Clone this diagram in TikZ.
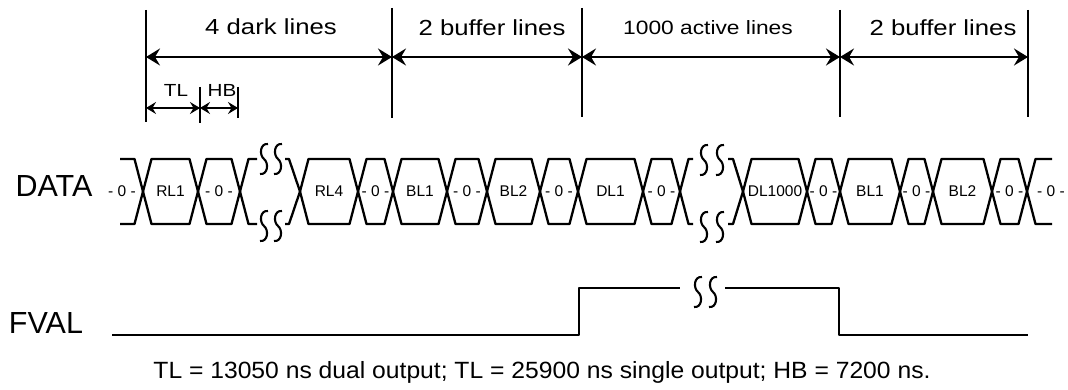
\documentclass[tikz,border=0pt]{standalone}
\usepackage{fontspec}
\setmainfont{Liberation Sans}
\newfontfamily\hdfont[FakeStretch=1.18]{Liberation Sans}
\newfontfamily\capfont[FakeStretch=1.05]{Liberation Sans}
\usetikzlibrary{arrows.meta}
\begin{document}
\begin{tikzpicture}[x=1pt,y=-1pt,
  sig/.style={line width=2.3pt,line join=round},
  tickline/.style={line width=1.9pt},
  dimarr/.style={line width=2.2pt,{Stealth[length=14pt,width=17pt,inset=5pt]}-{Stealth[length=14pt,width=17pt,inset=5pt]}},
  sdimarr/.style={line width=1.9pt,{Stealth[length=10pt,width=12pt,inset=3.5pt]}-{Stealth[length=10pt,width=12pt,inset=3.5pt]}},
  squig/.style={line width=2.1pt},
  brk/.pic={\draw[squig] (4,-15) .. controls (-4,-16) and (-5,-4) .. (0,0) .. controls (5,4) and (4,16) .. (-4,15);},
  celltxt/.style={font=\fontsize{15.5}{16}\selectfont,inner sep=0pt},
  hd/.style={font=\hdfont\fontsize{21.8}{22}\selectfont,inner sep=0pt,anchor=base},
  hdsmall/.style={font=\hdfont\fontsize{19.3}{20}\selectfont,inner sep=0pt,anchor=base},
  tlhb/.style={font=\hdfont\fontsize{17.5}{18}\selectfont,inner sep=0pt,anchor=base},
  signame/.style={font=\fontsize{30.5}{31}\selectfont,inner sep=0pt,anchor=base},
]
\useasboundingbox (0,0) rectangle (1068,390);

% ---------- dimension ticks ----------
\coordinate (k0t) at (146,10);   \coordinate (k0b) at (146,122);
\coordinate (k1t) at (392,8);    \coordinate (k1b) at (392,118);
\coordinate (k2t) at (582,8);    \coordinate (k2b) at (582,117);
\coordinate (k3t) at (840,10);   \coordinate (k3b) at (840,117);
\coordinate (k4t) at (1028,10);  \coordinate (k4b) at (1028,117);
\coordinate (tlt) at (200,87);   \coordinate (tlb) at (200,123);
\coordinate (hbt) at (238,87);   \coordinate (hbb) at (238,118);
\foreach \k in {k0,k1,k2,k3,k4,tl,hb} \draw[tickline] (\k t) -- (\k b);

\coordinate (a0) at (146,57); \coordinate (a1) at (392,57);
\coordinate (a2) at (582,57); \coordinate (a3) at (840,57);
\coordinate (a4) at (1028,57);
\draw[dimarr] (a0) -- (a1);
\draw[dimarr] (a1) -- (a2);
\draw[dimarr] (a2) -- (a3);
\draw[dimarr] (a3) -- (a4);

\coordinate (s0) at (146,108); \coordinate (s1) at (200,108); \coordinate (s2) at (238,108);
\draw[sdimarr] (s0) -- (s1);
\draw[sdimarr] (s1) -- (s2);

\node[hd] (ldark) at (271,35) {4 dark lines};
\node[hd] (lbuf1) at (492,36) {2 buffer lines};
\node[hdsmall] (lact) at (708,35) {1000 active lines};
\node[hd] (lbuf2) at (943,36) {2 buffer lines};
\node[tlhb] (ltl) at (176,97) {TL};
\node[tlhb] (lhb) at (222,97) {HB};

% ---------- DATA ----------
\node[signame] (ndata) at (54,197) {DATA};
% open left end
\draw[sig] (120,159) -- (134.5,159) -- (143,191.5) -- (134.5,224) -- (120,224);
\node[celltxt] (cell0) at (122,191.5) {- 0 -};
\foreach \a/\b/\t [count=\i] in {143/198/RL1, 198/240/{- 0 -}, 300/358/RL4, 358/393/{- 0 -},
  393/447/BL1, 447/487/{- 0 -}, 487/540/BL2, 540/578/{- 0 -}, 578/643/DL1, 643/680/{- 0 -},
  743/807/DL1000, 807/840/{- 0 -}, 840/900/BL1, 900/933/{- 0 -}, 933/992/BL2, 992/1027/{- 0 -}} {
  \draw[sig] (\a,191.5) -- (\a+8.5,159) -- (\b-8.5,159) -- (\b,191.5) -- (\b-8.5,224) -- (\a+8.5,224) -- cycle;
  \node[celltxt] (cell\i) at ({(\a+\b)/2},191.5) {\t};
}
% open right end
\draw[sig] (1052,159) -- (1035.5,159) -- (1027,191.5) -- (1035.5,224) -- (1052,224);
\node[celltxt] (cell17) at (1051,191.5) {- 0 -};

% break 1
\draw[sig] (257,159) -- (248.5,159) -- (240,191.5) -- (248.5,224) -- (257,224);
\draw[sig] (285,159) -- (289,159) -- (300,191.5) -- (289,224) -- (285,224);
\pic at (264,159) {brk}; \pic at (278,159) {brk};
\pic at (264,226) {brk}; \pic at (278,226) {brk};
% break 2
\draw[sig] (693,159) -- (688.5,159) -- (680,191.5) -- (688.5,224) -- (693,224);
\draw[sig] (728,159) -- (733,159) -- (743,191.5) -- (733,224) -- (728,224);
\pic at (704,160) {brk}; \pic at (720,160) {brk};
\pic at (704,227) {brk}; \pic at (720,227) {brk};

% ---------- FVAL ----------
\node[signame] (nfval) at (46,333) {FVAL};
\draw[sig] (112,335) -- (579,335) -- (579,288) -- (680,288);
\draw[sig] (725,288) -- (839,288) -- (839,335) -- (1028,335);
\pic at (698,292) {brk}; \pic at (713,292) {brk};

% ---------- caption ----------
\node[font=\capfont\fontsize{23.5}{24}\selectfont,inner sep=0pt,anchor=base] (cap) at (542,378)
  {TL = 13050 ns dual output; TL = 25900 ns single output; HB = 7200 ns.};
\end{tikzpicture}
\end{document}
